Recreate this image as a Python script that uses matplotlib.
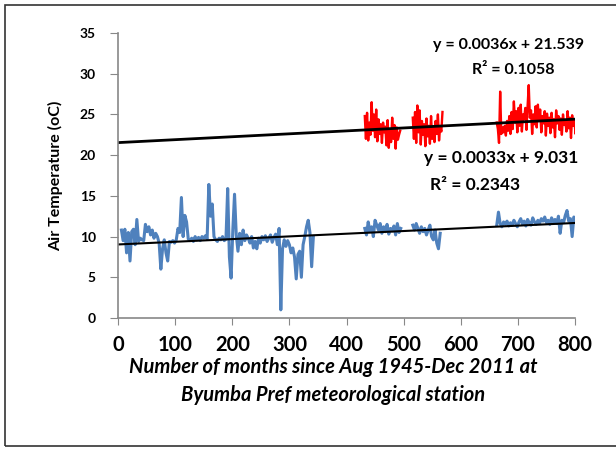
import numpy as np
import matplotlib.pyplot as plt
from matplotlib.patches import Rectangle

plt.rcParams['font.family'] = ['Lato', 'DejaVu Sans']

blue_start = [6, 432, 516, 663]
blue_seg1 = [10.8, 9.5, 10.9, 8.0, 10.5, 7.0, 10.6, 10.9, 9.0, 12.1, 9.4, 9.8, 9.6, 9.5, 11.5,
             10.6, 11.2, 10.2, 10.8, 9.8, 10.4, 10.0, 9.2, 6.0, 8.5, 9.6, 8.0, 7.0, 9.4, 9.3,
             9.5, 9.2, 9.6, 11.0, 10.5, 14.8, 10.0, 12.6, 11.8, 9.7, 9.5, 9.8, 9.4, 10.0, 9.6,
             9.9, 9.5, 10.0, 9.8, 10.1, 9.7, 16.4, 12.5, 14.0, 10.0, 9.6, 9.4, 9.8, 9.6, 10.0,
             9.5, 9.7, 15.9, 7.5, 4.9, 10.8, 15.2, 10.2, 8.2, 10.4, 9.0, 10.8, 9.5, 10.2, 9.8,
             9.2, 10.0, 8.6, 9.4, 8.5, 9.8, 9.2, 10.0, 9.6, 10.1, 9.4, 9.8, 10.2, 9.3, 9.9,
             10.3, 9.0, 11.0, 1.0, 8.5, 9.6, 8.8, 9.5, 9.0, 8.0, 8.6, 7.5, 4.8, 7.8, 8.2,
             5.0, 9.0, 10.0, 11.2, 12.0, 10.5, 6.3, 10.0]
blue_seg2 = [11.0, 10.2, 11.8, 10.6, 11.2, 10.0, 12.0, 11.4, 10.8, 11.6, 10.4, 11.2, 10.6, 11.5,
             10.3, 11.0, 10.7, 11.3, 10.2, 11.6, 10.5, 11.0]
blue_seg3 = [11.4, 10.8, 11.6, 11.0, 10.4, 11.2, 10.6, 11.0, 10.2, 10.8, 11.4, 10.0, 9.6, 10.8,
             9.2, 8.5, 10.4]
blue_seg4 = [11.4, 13.0, 11.6, 11.2, 11.8, 11.5, 11.9, 11.3, 11.7, 11.4, 12.0, 11.6, 11.2, 11.8,
             12.2, 11.5, 11.9, 11.3, 12.1, 11.7, 11.4, 12.3, 11.8, 11.5, 12.0, 11.6, 12.2, 11.9,
             12.4, 11.7, 12.0, 11.5, 12.3, 11.8, 12.1, 11.6, 12.5, 10.4, 12.0, 11.7, 12.6, 13.2,
             11.9, 12.2, 10.0, 12.4, 12.0]

red_start = [432, 516, 663]
red_seg1 = [24.8, 22.0, 25.2, 21.8, 24.0, 22.5, 26.5, 23.0, 25.0, 22.2, 25.6, 21.7, 24.4, 22.6,
            23.8, 21.5, 24.0, 22.8, 23.5, 21.2, 24.3, 20.9, 23.2, 21.6, 24.6, 22.0, 23.7, 20.8,
            23.4, 21.9, 22.5, 23.0]
red_seg2 = [24.6, 22.0, 25.3, 21.5, 26.1, 22.8, 25.5, 21.3, 24.2, 22.5, 23.8, 21.1, 24.5, 22.3,
            23.6, 21.4, 24.8, 22.0, 23.4, 21.6, 24.2, 22.6, 25.0, 21.8, 23.5, 22.9, 25.3]
red_seg3 = [24.0, 23.2, 21.5, 27.8, 22.6, 23.4, 22.8, 23.6, 22.4, 24.2, 23.0, 24.8, 22.6, 25.3,
            23.2, 26.6, 24.0, 25.4, 22.8, 25.8, 23.6, 26.2, 22.9, 25.0, 24.4, 25.8, 23.1, 26.0,
            28.6, 24.6, 25.5, 22.6, 25.0, 23.8, 26.0, 23.4, 26.2, 24.2, 25.6, 22.8, 24.8, 23.9,
            25.4, 22.4, 25.1, 23.6, 24.6, 22.7, 25.2, 23.4, 24.4, 22.2, 25.5, 23.9, 24.8, 23.1,
            24.5, 22.5, 25.0, 23.7, 24.3, 22.9, 25.4, 23.3, 24.6, 22.1, 24.9, 23.6, 24.2, 22.6,
            23.8, 22.8]

# linear trends as printed on the chart
red_slope, red_icpt = 0.0036, 21.539
blue_slope, blue_icpt = 0.0033, 9.031

fig = plt.figure(figsize=(6.16, 4.49), dpi=100)
W, H = 616, 449
ax = fig.add_axes([118 / W, 1 - 318 / H, 457 / W, 285 / H])

blue_c = '#4f81bd'
for s, seg in zip(blue_start, [blue_seg1, blue_seg2, blue_seg3, blue_seg4]):
    m = np.arange(len(seg)) * 3 + s
    ax.plot(m, seg, color=blue_c, lw=2.2, solid_joinstyle='round')
for s, seg in zip(red_start, [red_seg1, red_seg2, red_seg3]):
    m = np.arange(len(seg)) * 2 + s
    ax.plot(m, seg, color='#ff0000', lw=1.7)

xt = np.array([0, 800])
ax.plot(xt, red_slope * xt + red_icpt, color='black', lw=2.0)
ax.plot(xt, blue_slope * xt + blue_icpt, color='black', lw=1.5)

ax.set_xlim(0, 800)
ax.set_ylim(0, 35)
ax.set_xticks(range(0, 801, 100))
ax.set_yticks(range(0, 36, 5))
for side in ['top', 'right']:
    ax.spines[side].set_visible(False)
for side in ['left', 'bottom']:
    ax.spines[side].set_color('#888888')
    ax.spines[side].set_linewidth(1.2)
ax.tick_params(axis='x', direction='out', length=5, color='#888888', labelsize=14.5, pad=7)
ax.tick_params(axis='y', direction='out', length=6, color='#888888', labelsize=10, pad=10)
for lab in ax.get_xticklabels() + ax.get_yticklabels():
    lab.set_fontweight('bold')

ax.set_ylabel('Air Temperature (oC)', fontsize=11.5, fontweight='bold', labelpad=12)
fig.text(333 / W, 1 - 367 / H, 'Number of months since Aug 1945-Dec 2011 at',
         ha='center', va='center', fontsize=14.5, fontweight='bold', style='italic')
fig.text(333 / W, 1 - 395 / H, 'Byumba Pref meteorological station',
         ha='center', va='center', fontsize=14.5, fontweight='bold', style='italic')

fig.text(509 / W, 1 - 45 / H, 'y = 0.0036x + 21.539', ha='center', va='center',
         fontsize=11.5, fontweight='bold')
fig.text(513 / W, 1 - 70 / H, 'R² = 0.1058', ha='center', va='center',
         fontsize=11.5, fontweight='bold')
fig.text(501 / W, 1 - 158 / H, 'y = 0.0033x + 9.031', ha='center', va='center',
         fontsize=12.5, fontweight='bold')
fig.text(475 / W, 1 - 185 / H, 'R² = 0.2343', ha='center', va='center',
         fontsize=12.5, fontweight='bold')

fig.patches.append(Rectangle((5 / W, 3 / H), 1.2, 1 - 8 / H, transform=fig.transFigure,
                             fill=False, edgecolor='#333333', lw=1.2))

fig.savefig('out.png', dpi=100)
